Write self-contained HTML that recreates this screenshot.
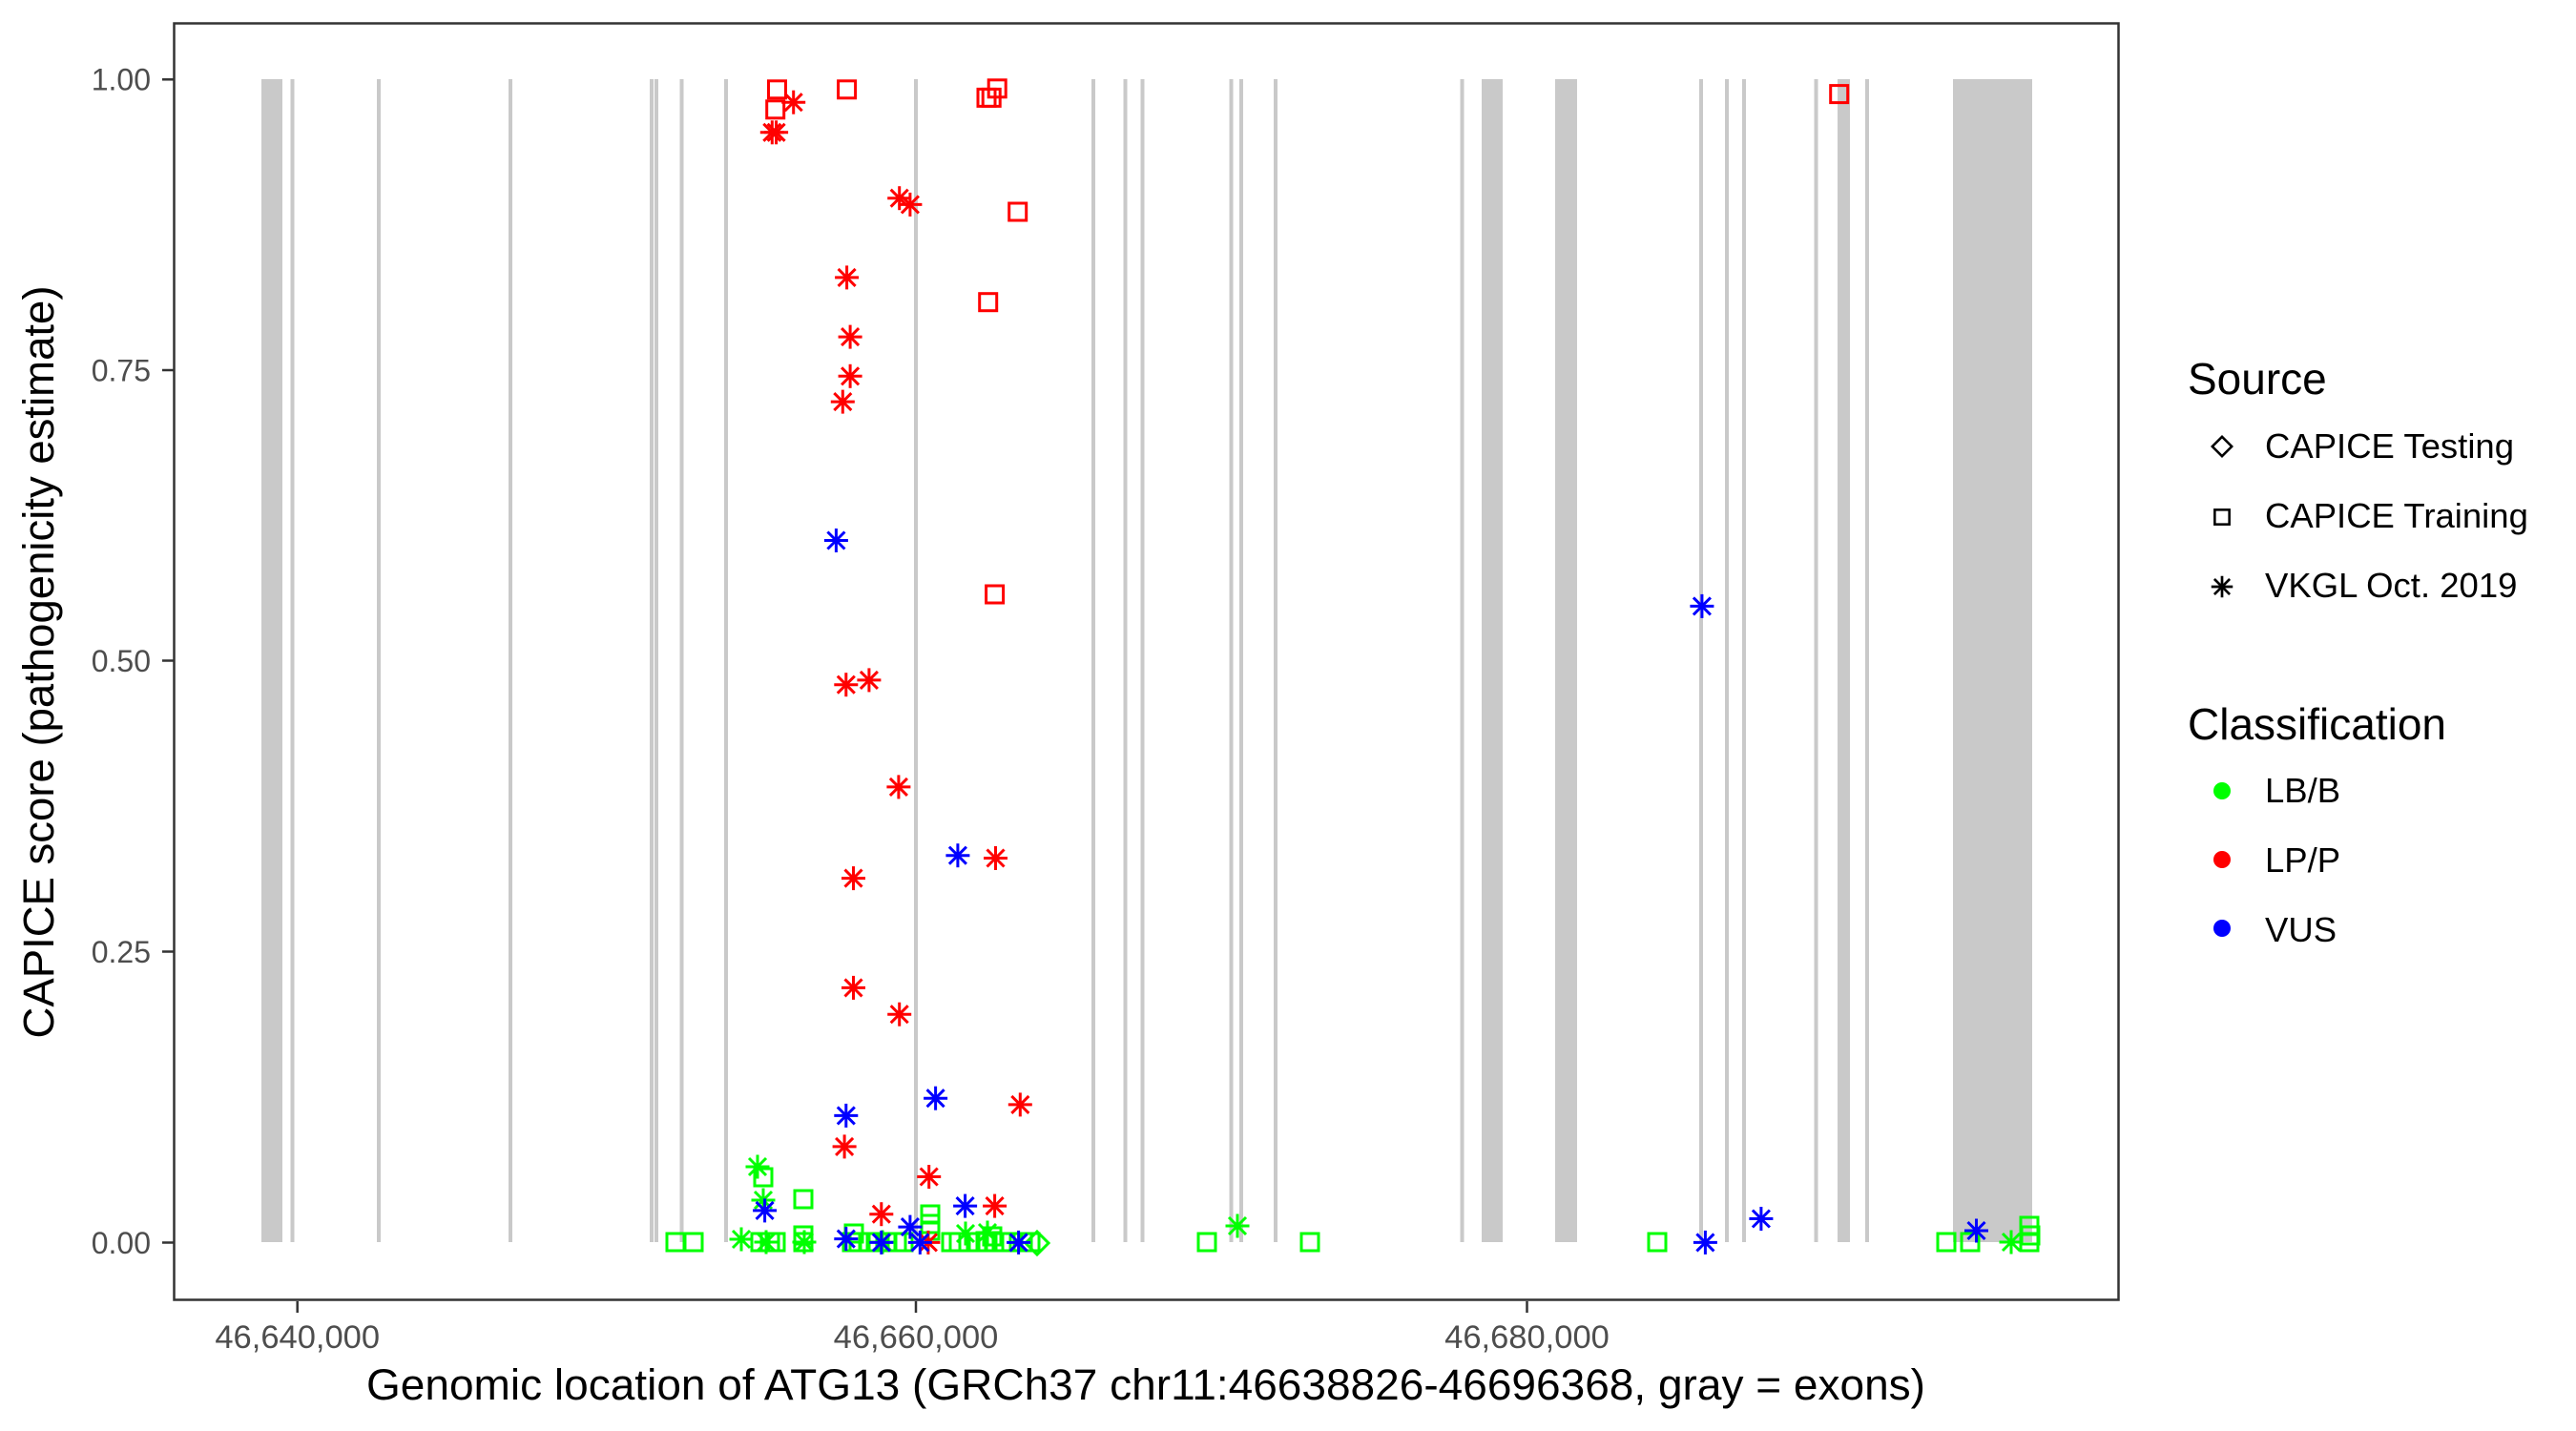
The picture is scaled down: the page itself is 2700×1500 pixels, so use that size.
<!DOCTYPE html>
<html><head><meta charset="utf-8"><style>html,body{margin:0;padding:0;background:#fff}svg{display:block}</style></head>
<body>
<svg width="2700" height="1500" viewBox="0 0 2700 1500" xmlns="http://www.w3.org/2000/svg" font-family="Liberation Sans, Arial, sans-serif">
<defs>
<g id="sq"><rect x="-9" y="-9" width="18" height="18" fill="none" stroke-width="3"/></g>
<g id="ast" stroke-width="3" fill="none"><line x1="-12.5" y1="0" x2="12.5" y2="0"/><line x1="0" y1="-12.5" x2="0" y2="12.5"/><line x1="-9" y1="-9" x2="9" y2="9"/><line x1="-9" y1="9" x2="9" y2="-9"/></g>
<g id="dia"><polygon points="0,-12 12,0 0,12 -12,0" fill="none" stroke-width="3"/></g>
</defs>
<rect width="2700" height="1500" fill="#fff"/>
<g fill="#c9c9c9">
<rect x="274" y="83" width="22" height="1219"/>
<rect x="1553" y="83" width="22" height="1219"/>
<rect x="1630" y="83" width="23" height="1219"/>
<rect x="1926" y="83" width="13" height="1219"/>
<rect x="2047" y="83" width="83" height="1219"/>
<rect x="304.5" y="83" width="4" height="1219"/>
<rect x="395" y="83" width="4" height="1219"/>
<rect x="533" y="83" width="4" height="1219"/>
<rect x="681" y="83" width="4" height="1219"/>
<rect x="686" y="83" width="4" height="1219"/>
<rect x="712.5" y="83" width="4" height="1219"/>
<rect x="759" y="83" width="4" height="1219"/>
<rect x="958" y="83" width="4" height="1219"/>
<rect x="1144" y="83" width="4" height="1219"/>
<rect x="1177.5" y="83" width="4" height="1219"/>
<rect x="1195.5" y="83" width="4" height="1219"/>
<rect x="1288.5" y="83" width="4" height="1219"/>
<rect x="1299" y="83" width="4" height="1219"/>
<rect x="1335" y="83" width="4" height="1219"/>
<rect x="1530.5" y="83" width="4" height="1219"/>
<rect x="1781" y="83" width="4" height="1219"/>
<rect x="1808" y="83" width="4" height="1219"/>
<rect x="1826" y="83" width="4" height="1219"/>
<rect x="1901.5" y="83" width="4" height="1219"/>
<rect x="1955" y="83" width="4" height="1219"/>
</g>
<g stroke="#00ff00">
<use href="#sq" x="708" y="1302"/><use href="#sq" x="727" y="1302"/><use href="#sq" x="797" y="1302"/><use href="#sq" x="807" y="1302"/><use href="#sq" x="813" y="1302"/>
<use href="#sq" x="842" y="1295"/><use href="#sq" x="842" y="1302"/><use href="#sq" x="893" y="1302"/><use href="#sq" x="900" y="1302"/><use href="#sq" x="910" y="1302"/>
<use href="#sq" x="920" y="1302"/><use href="#sq" x="930" y="1302"/><use href="#sq" x="940" y="1302"/><use href="#sq" x="947" y="1302"/><use href="#sq" x="997" y="1302"/>
<use href="#sq" x="1005" y="1302"/><use href="#sq" x="1015" y="1302"/><use href="#sq" x="1025" y="1302"/><use href="#sq" x="1035" y="1302"/><use href="#sq" x="1042" y="1302"/>
<use href="#sq" x="1050" y="1302"/><use href="#sq" x="1060" y="1302"/><use href="#sq" x="1072" y="1302"/><use href="#sq" x="1080" y="1302"/><use href="#sq" x="1265" y="1302"/>
<use href="#sq" x="1373" y="1302"/><use href="#sq" x="1737" y="1302"/><use href="#sq" x="2040" y="1302"/><use href="#sq" x="2065" y="1302"/><use href="#sq" x="2127" y="1302"/>
<use href="#sq" x="2127" y="1285"/><use href="#sq" x="2128" y="1295"/><use href="#sq" x="800" y="1234"/><use href="#sq" x="842" y="1257"/><use href="#sq" x="895" y="1293"/>
<use href="#sq" x="975" y="1273"/><use href="#sq" x="975" y="1283"/><use href="#sq" x="975" y="1290"/><use href="#sq" x="1040" y="1296"/>
<use href="#ast" x="777" y="1299"/><use href="#ast" x="794" y="1223"/><use href="#ast" x="800" y="1258"/><use href="#ast" x="803" y="1302"/><use href="#ast" x="843" y="1302"/>
<use href="#ast" x="925" y="1302"/><use href="#ast" x="1012" y="1293"/><use href="#ast" x="1035" y="1292"/><use href="#ast" x="1297" y="1285"/><use href="#ast" x="2108" y="1302"/>
<use href="#dia" x="1087" y="1303"/>
</g>
<g stroke="#ff0000">
<use href="#sq" x="814.5" y="93.8"/><use href="#sq" x="812.7" y="114.8"/><use href="#sq" x="887.6" y="93.8"/><use href="#sq" x="1034" y="102.4"/><use href="#sq" x="1039.2" y="102.4"/>
<use href="#sq" x="1045.2" y="92.8"/><use href="#sq" x="1066.7" y="222"/><use href="#sq" x="1035.7" y="316.7"/><use href="#sq" x="1042.6" y="623"/><use href="#sq" x="1927.7" y="98.6"/>
<use href="#ast" x="831.7" y="107.2"/><use href="#ast" x="809.3" y="138.8"/><use href="#ast" x="813.6" y="138.8"/><use href="#ast" x="942.7" y="207.7"/><use href="#ast" x="953.9" y="214.4"/>
<use href="#ast" x="887.6" y="290.9"/><use href="#ast" x="891.1" y="353.1"/><use href="#ast" x="891.1" y="394.3"/><use href="#ast" x="883.3" y="421.1"/><use href="#ast" x="886.8" y="717.7"/>
<use href="#ast" x="910.9" y="712.9"/><use href="#ast" x="941.9" y="824.9"/><use href="#ast" x="1043.5" y="899.5"/><use href="#ast" x="894.5" y="920.6"/><use href="#ast" x="894.5" y="1035.4"/>
<use href="#ast" x="942.7" y="1063.2"/><use href="#ast" x="1069.3" y="1157.9"/><use href="#ast" x="885.1" y="1201.9"/><use href="#ast" x="973.7" y="1233.5"/><use href="#ast" x="923.8" y="1272.7"/>
<use href="#ast" x="1042.6" y="1264.1"/><use href="#ast" x="972.9" y="1302.4"/>
</g>
<g stroke="#0000ff">
<use href="#ast" x="876.4" y="566.5"/><use href="#ast" x="1003.9" y="896.7"/><use href="#ast" x="980.6" y="1151.2"/><use href="#ast" x="886.8" y="1169.4"/><use href="#ast" x="801.6" y="1268.9"/>
<use href="#ast" x="1011.6" y="1264.1"/><use href="#ast" x="953.9" y="1286.1"/><use href="#ast" x="886.8" y="1298.6"/><use href="#ast" x="964.3" y="1302.4"/><use href="#ast" x="1067.6" y="1302.4"/>
<use href="#ast" x="923.8" y="1302.4"/><use href="#ast" x="1783.9" y="635.4"/><use href="#ast" x="1845.9" y="1277.5"/><use href="#ast" x="2071.5" y="1290"/><use href="#ast" x="1787.4" y="1302.4"/>
</g>
<rect x="182.5" y="24.5" width="2038" height="1338" fill="none" stroke="#333" stroke-width="2.5"/>
<g stroke="#333" stroke-width="2.5">
<line x1="170" y1="83.3" x2="182" y2="83.3"/><line x1="170" y1="388" x2="182" y2="388"/><line x1="170" y1="692.5" x2="182" y2="692.5"/><line x1="170" y1="997.5" x2="182" y2="997.5"/><line x1="170" y1="1302.5" x2="182" y2="1302.5"/>
<line x1="311.7" y1="1364" x2="311.7" y2="1376"/><line x1="960" y1="1364" x2="960" y2="1376"/><line x1="1600.5" y1="1364" x2="1600.5" y2="1376"/>
</g>
<g font-size="32" fill="#4d4d4d" text-anchor="end">
<text x="158" y="94.5">1.00</text><text x="158" y="399.5">0.75</text><text x="158" y="704">0.50</text><text x="158" y="1009">0.25</text><text x="158" y="1314">0.00</text>
</g>
<g font-size="34.5" fill="#4d4d4d" text-anchor="middle">
<text x="311.7" y="1413">46,640,000</text><text x="960" y="1413">46,660,000</text><text x="1600.5" y="1413">46,680,000</text>
</g>
<text x="1201" y="1467" font-size="45" text-anchor="middle" textLength="1634" lengthAdjust="spacingAndGlyphs">Genomic location of ATG13 (GRCh37 chr11:46638826-46696368, gray = exons)</text>
<text transform="translate(56,694) rotate(-90)" font-size="45.5" text-anchor="middle">CAPICE score (pathogenicity estimate)</text>
<text x="2293" y="413" font-size="46">Source</text>
<g stroke="#000"><use href="#dia" x="2329" y="468" transform="translate(2329,468) scale(0.85) translate(-2329,-468)"/><use href="#sq" x="2329" y="542" transform="translate(2329,542) scale(0.85) translate(-2329,-542)"/><use href="#ast" x="2329" y="615" transform="translate(2329,615) scale(0.9) translate(-2329,-615)"/></g>
<g font-size="36.5"><text x="2374" y="480">CAPICE Testing</text><text x="2374" y="553">CAPICE Training</text><text x="2374" y="626">VKGL Oct. 2019</text></g>
<text x="2293" y="775" font-size="46">Classification</text>
<circle cx="2329" cy="829" r="9" fill="#00ff00"/><circle cx="2329" cy="901" r="9" fill="#ff0000"/><circle cx="2329" cy="973" r="9" fill="#0000ff"/>
<g font-size="36.5"><text x="2374" y="841">LB/B</text><text x="2374" y="914">LP/P</text><text x="2374" y="987">VUS</text></g>
</svg>
</body></html>
